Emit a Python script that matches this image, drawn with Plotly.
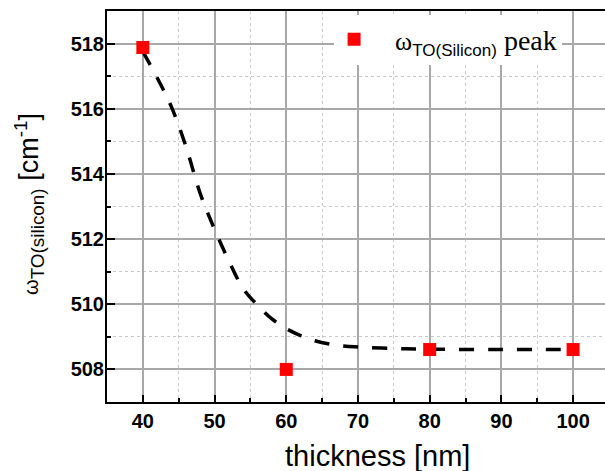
import plotly.graph_objects as go

# measured points
thickness = [40, 60, 80, 100]
omega_peak = [517.88, 508.0, 508.61, 508.61]

# dashed guide curve
fit_x = [40, 42, 44, 46, 48, 50, 52, 54, 56, 58, 60, 62, 64, 66, 68, 70, 75, 80, 90, 100]
fit_y = [517.75, 516.95, 516.05, 514.85, 513.40, 512.30, 511.33, 510.48, 509.97, 509.55,
         509.25, 509.04, 508.88, 508.78, 508.72, 508.69, 508.64, 508.62, 508.61, 508.61]

x_ticks = [40, 50, 60, 70, 80, 90, 100]
y_ticks = [508, 510, 512, 514, 516, 518]

fig = go.Figure()
fig.add_trace(go.Scatter(
    x=fit_x, y=fit_y, mode="lines", line_shape="spline",
    line=dict(color="black", width=3.5, dash="15px,14px"),
    showlegend=False, hoverinfo="skip"))
fig.add_trace(go.Scatter(
    x=thickness, y=omega_peak, mode="markers",
    marker=dict(symbol="square", size=13, color="#ff0000", line=dict(width=0)),
    name=("&nbsp;&nbsp;&nbsp;<span style='font-size:26px'>ω</span>"
          "<sub><span style='font-family:Liberation Sans, Arial;font-size:17px'>TO(Silicon)</span></sub>"
          " peak")))

tickfont = dict(family="Liberation Sans, Arial", size=20, color="black", weight="bold")

fig.update_xaxes(
    range=[35, 104.45], tickvals=x_ticks, ticktext=[str(v) for v in x_ticks],
    showline=True, linecolor="black", linewidth=2, mirror=True,
    ticks="inside", ticklen=7, tickwidth=2, tickcolor="black",
    showgrid=True, gridcolor="#a8a8a8", gridwidth=1.5,
    minor=dict(dtick=5, tick0=35, ticks="inside", ticklen=4, tickwidth=1.5, tickcolor="black",
               showgrid=True, gridcolor="#c8c8c8", gridwidth=1, griddash="dot"),
    tickfont=tickfont, zeroline=False)
fig.update_yaxes(
    range=[507, 519], tickvals=y_ticks, ticktext=[str(v) for v in y_ticks],
    showline=True, linecolor="black", linewidth=2, mirror=False,
    ticks="inside", ticklen=8, tickwidth=2, tickcolor="black",
    showgrid=True, gridcolor="#a8a8a8", gridwidth=1.5,
    minor=dict(dtick=1, tick0=507, ticks="inside", ticklen=4, tickwidth=1.5, tickcolor="black",
               showgrid=True, gridcolor="#c8c8c8", gridwidth=1, griddash="dot"),
    tickfont=tickfont, zeroline=False, ticklabelstandoff=-3)

fig.add_annotation(
    text="thickness [nm]", xref="paper", yref="paper", x=0.543, y=-0.093,
    xanchor="center", yanchor="top", showarrow=False,
    font=dict(family="Liberation Sans, Arial", size=29, color="black"))
fig.add_annotation(
    text="<span style='font-size:20px'>ω</span><sub>TO(silicon)</sub> [cm<sup>-1</sup>]",
    xref="paper", yref="paper", x=-0.157, y=0.506, textangle=-90,
    xanchor="center", yanchor="middle", showarrow=False,
    font=dict(family="Liberation Sans, Arial", size=27, color="black"))

fig.update_layout(
    width=605, height=471,
    margin=dict(l=107, r=0, t=11, b=69),
    plot_bgcolor="white", paper_bgcolor="white",
    legend=dict(x=0.456, y=0.991, xanchor="left", yanchor="top",
                bgcolor="white", borderwidth=0,
                font=dict(family="Liberation Serif, Times New Roman", size=28, color="black")),
)

fig.write_html("out.html")
